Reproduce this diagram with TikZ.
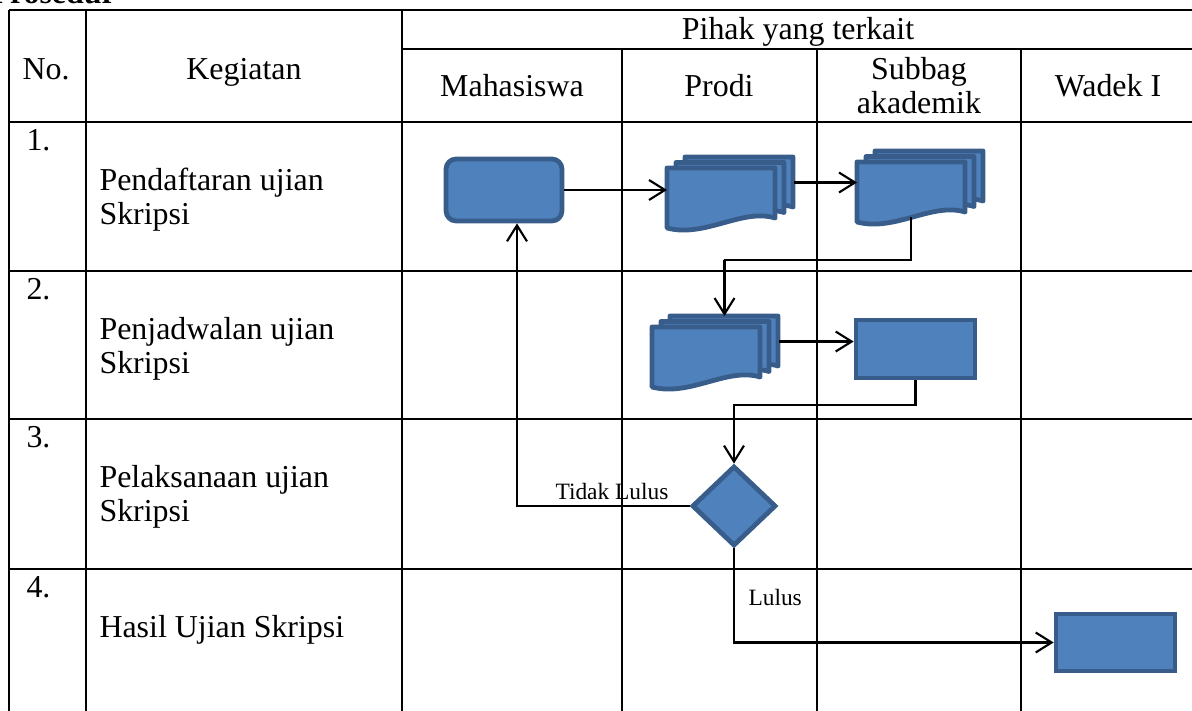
\documentclass[tikz,border=0pt]{standalone}
\usepackage{fontspec}
\setmainfont{Liberation Serif}
\usetikzlibrary{arrows.meta,shapes.geometric}

\definecolor{shapefill}{HTML}{4F81BD}
\definecolor{shapeline}{HTML}{385D8A}

\tikzset{
  tabline/.style={line width=1.1pt},
  txt/.style={font=\fontsize{12}{12.8}\selectfont, inner sep=0pt},
  lbl/.style={font=\fontsize{8.8}{10}\selectfont, inner sep=0pt},
  shapebox/.style={draw=shapeline, fill=shapefill, line width=1.8pt, inner sep=0pt},
  docsheet/.style={draw=shapeline, fill=shapefill, line width=1.8pt, line join=round},
  docbody/.style={inner sep=0pt, minimum width=40.6pt, minimum height=18.8pt},
  flow/.style={line width=0.8pt, -{Straight Barb[length=6pt,width=7.5pt]}},
}

% stack of three documents, #1 name, (#2,#3) top left of the front sheet
\newcommand{\multidoc}[3]{%
  \foreach \k in {2,1,0}{
    \draw[docsheet, shift={(#2+9*\k,#3-5.5*\k)}]
      (0,0) -- (108,0) -- (108,50) .. controls (75,40) and (38,70) .. (0,60) -- cycle;
  }
  \node[docbody, anchor=north west] (#1) at (#2,#3) {};
  \node[docbody, anchor=north west] (#1-b) at (#2+18,#3-11) {};
  \coordinate (#1-s) at (#2+54,#3+55);
}

\begin{document}
\begin{tikzpicture}[x=0.376pt,y=-0.376pt]
\useasboundingbox (0,0) rectangle (1192,711);
\clip (0,0) rectangle (1192,711);

\node[anchor=base west, font=\bfseries\fontsize{12}{14}\selectfont, inner sep=0pt] (title) at (-10,4) {Prosedur};

% table
\draw[tabline] (9,10) -- (1196,10);
\draw[tabline] (402,49) -- (1196,49);
\foreach \y in {122,271,419,569}
  \draw[tabline] (9,\y) -- (1196,\y);
\foreach \x in {9,86,402}
  \draw[tabline] (\x,10) -- (\x,720);
\foreach \x in {622,817,1021,1195}
  \draw[tabline] (\x,49) -- (\x,720);

% header
\node[txt, anchor=base] (hno) at (46,80) {No.};
\node[txt, anchor=base] (hkeg) at (244,80) {Kegiatan};
\node[txt, anchor=base] (hpihak) at (798,40) {Pihak yang terkait};
\node[txt, anchor=base] (hmhs) at (512,97) {Mahasiswa};
\node[txt, anchor=base] (hprodi) at (719,97) {Prodi};
\node[txt, anchor=base, align=center] (hsub) at (919,114) {Subbag\\akademik};
\node[txt, anchor=base] (hwadek) at (1108,97) {Wadek I};

% rows
\node[txt, anchor=base west] (n1) at (26,151) {1.};
\node[txt, anchor=base west, align=left] (k1) at (99,225) {Pendaftaran ujian\\Skripsi};
\node[txt, anchor=base west] (n2) at (26,300) {2.};
\node[txt, anchor=base west, align=left] (k2) at (99,374) {Penjadwalan ujian\\Skripsi};
\node[txt, anchor=base west] (n3) at (26,448) {3.};
\node[txt, anchor=base west, align=left] (k3) at (99,522) {Pelaksanaan ujian\\Skripsi};
\node[txt, anchor=base west] (n4) at (26,598) {4.};
\node[txt, anchor=base west] (k4) at (99,638) {Hasil Ujian Skripsi};

% flow shapes
\node[shapebox, rounded corners=3.8pt, minimum width=43.6pt, minimum height=23.3pt] (mhs) at (504,190) {};
\multidoc{prodiA}{667}{168}
\multidoc{subA}{857}{162}
\multidoc{prodiB}{652}{327}
\node[shapebox, minimum width=44.7pt, minimum height=21.8pt] (subB) at (915.5,349) {};
\node[shapebox, diamond, minimum width=31.6pt, minimum height=30.1pt] (dec) at (734,506) {};
\node[shapebox, minimum width=44.7pt, minimum height=21.4pt] (wadek) at (1115.5,642.5) {};

% connectors
\coordinate (jA) at (724,260);
\coordinate (jB) at (734,405);
\coordinate (jC) at (517,506);
\draw[flow] (mhs.east) -- (mhs.east -| prodiA.west);
\draw[flow] (prodiA-b.east) -- (prodiA-b.east -| subA.west);
\draw[flow] (subA-s) |- (jA) -| (prodiB-b.north);
\draw[flow] (prodiB-b.east) -- (prodiB-b.east -| subB.west);
\draw[flow] (subB.south) |- (jB) -| (dec.north);
\draw[flow] (dec.west) -- (jC) -- (jC |- mhs.south);
\draw[flow] (dec.south) |- (wadek.west);

\node[lbl, anchor=base west] (ltidak) at (555,500) {Tidak Lulus};
\node[lbl, anchor=base west] (llulus) at (748,606) {Lulus};
\end{tikzpicture}
\end{document}
